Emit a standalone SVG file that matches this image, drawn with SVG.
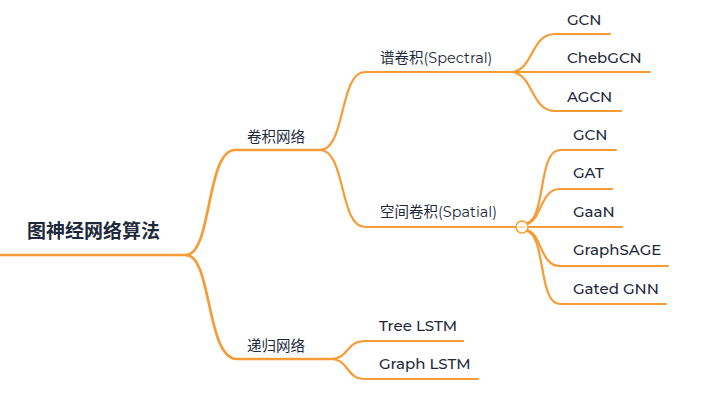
<svg xmlns="http://www.w3.org/2000/svg" width="718" height="415" viewBox="0 0 718 415">
<style>
.c{fill:none;stroke:#F79B36;stroke-width:2.2;stroke-linecap:round}
.r{stroke-width:2.7}
text{font-family:"Montserrat","Open Sans","Noto Sans CJK SC",sans-serif;fill:#1E2A3C;font-size:15px;font-weight:500}
.cn{font-family:"Noto Sans CJK SC","Open Sans",sans-serif;font-size:14.5px;font-weight:400}
.mx{font-family:"Montserrat","Open Sans","Noto Sans CJK SC",sans-serif;font-size:14.5px;font-weight:400}
.root{font-family:"Noto Sans CJK SC",sans-serif;font-size:19px;font-weight:bold}
</style>
<rect width="718" height="415" fill="#ffffff"/>
<g id="connectors">
<path class="c r" d="M0,255 H186"/>
<path class="c r" d="M186,255 C212,255 206,150 235,150 H320"/>
<path class="c r" d="M186,255 C212,255 206,359 237,359 H330"/>
<path class="c" d="M320,150 C346,150 339,72 365,72 H510"/>
<path class="c" d="M320,150 C346,150 339,227 365,227 H516"/>
<path class="c" d="M510,72 C534,72 530,34 555,34 H610"/>
<path class="c" d="M510,72 H650"/>
<path class="c" d="M510,72 C534,72 530,111 555,111 H621"/>
<path class="c" d="M527,223 C546,218 538,150 560,150 H616"/>
<path class="c" d="M527,224 C542,220 540,189 560,189 H612"/>
<path class="c" d="M528,227 H622"/>
<path class="c" d="M527,230 C542,234 540,266 560,266 H668"/>
<path class="c" d="M527,231 C546,236 538,304 560,304 H666"/>
<path class="c" d="M330,359 C350,359 345,341 365,341 H463"/>
<path class="c" d="M330,359 C350,359 345,379 365,379 H478"/>
</g>
<g id="collapse">
<circle cx="522" cy="227" r="6" fill="#ffffff" stroke="#F79B36" stroke-width="1.5"/>
<line x1="519" y1="227" x2="525" y2="227" stroke="#F9BE80" stroke-width="1.2"/>
</g>
<g id="root"><text class="root" x="27" y="238">图神经网络算法</text></g>
<g id="conv"><text class="cn" x="247" y="142">卷积网络</text></g>
<g id="rec"><text class="cn" x="247" y="351">递归网络</text></g>
<g id="spectral"><text class="mx" x="380" y="63">谱卷积(Spectral)</text></g>
<g id="spatial"><text class="mx" x="380" y="217">空间卷积(Spatial)</text></g>
<g id="s-gcn"><text x="567" y="25">GCN</text></g>
<g id="s-cheb"><text x="567" y="63">ChebGCN</text></g>
<g id="s-agcn"><text x="567" y="102">AGCN</text></g>
<g id="p-gcn"><text x="573" y="140">GCN</text></g>
<g id="p-gat"><text x="573" y="178">GAT</text></g>
<g id="p-gaan"><text x="573" y="217">GaaN</text></g>
<g id="p-sage"><text x="573" y="255">GraphSAGE</text></g>
<g id="p-gated"><text x="573" y="294">Gated GNN</text></g>
<g id="r-tree"><text x="379" y="331">Tree LSTM</text></g>
<g id="r-graph"><text x="379" y="369">Graph LSTM</text></g>
</svg>
